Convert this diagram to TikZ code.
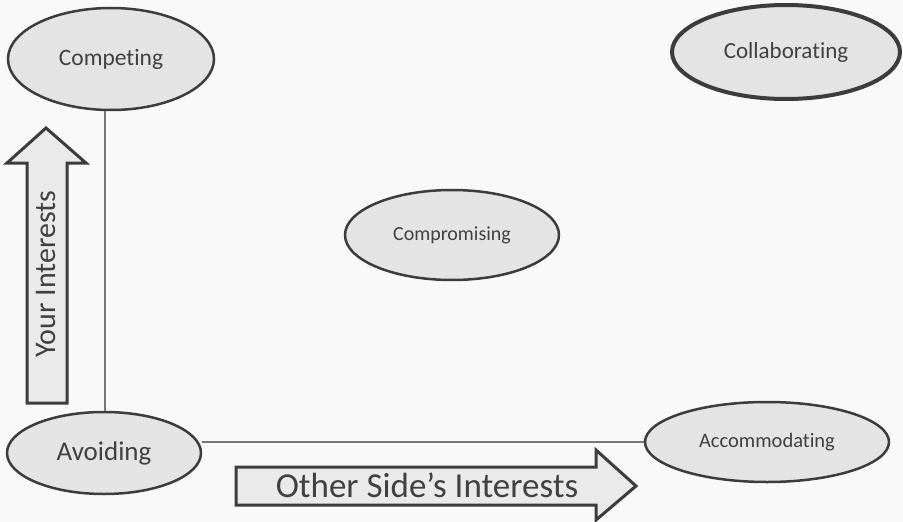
\documentclass[tikz,border=0pt]{standalone}
\usepackage{fontspec}
\setmainfont{Carlito}[Ligatures=NoCommon]
\usetikzlibrary{shapes.geometric}
\definecolor{bg}{HTML}{F9F9F9}
\definecolor{ellfill}{HTML}{E4E4E4}
\definecolor{ellborder}{HTML}{3C3C3C}
\definecolor{txt}{HTML}{404040}
\definecolor{conn}{HTML}{777777}
\definecolor{arrfill}{HTML}{EAEAEA}
\tikzset{
  stylebox/.style={ellipse, draw=ellborder, fill=ellfill, line width=2.5pt, inner sep=0pt, text=txt},
  connline/.style={draw=conn, line width=2pt},
  bigarrow/.style={draw=ellborder, fill=arrfill, line width=3pt, line join=miter},
  arrowtext/.style={text=txt, inner sep=0pt}
}
\begin{document}
\begin{tikzpicture}[x=1pt,y=-1pt]
\fill[bg] (0,0) rectangle (903,522);
\useasboundingbox (0,0) rectangle (903,522);

\node[stylebox, minimum width=206pt, minimum height=102pt, font=\fontsize{23.5}{26}\selectfont] (comp) at (111,59) {Competing};
\node[stylebox, line width=4pt, minimum width=228pt, minimum height=94pt, font=\fontsize{23}{26}\selectfont] (coll) at (786,52) {Collaborating};
\node[stylebox, minimum width=214pt, minimum height=90pt, font=\fontsize{20}{23}\selectfont] (compr) at (452,235) {Compromising};
\node[stylebox, minimum width=194pt, minimum height=82pt, font=\fontsize{27}{30}\selectfont] (avoid) at (104,453) {Avoiding};
\node[stylebox, minimum width=244pt, minimum height=80pt, font=\fontsize{20.5}{23}\selectfont] (acc) at (767,442) {Accommodating};

\draw[connline] (avoid.north -| 105,0) -- (comp.south -| 105,0);
\draw[connline] (acc.west -| avoid.east) -- (acc.west);

% up arrow
\draw[bigarrow] (27,403) -- (27,163) -- (7,163) -- (46,128) -- (86,163) -- (67,163) -- (67,403) -- cycle;
\node[arrowtext, rotate=90, font=\fontsize{30}{33}\selectfont] (you) at (46,274) {Your Interests};

% right arrow
\draw[bigarrow] (236,467) -- (596,467) -- (596,450) -- (636,486) -- (596,520) -- (596,505) -- (236,505) -- cycle;
\node[arrowtext, font=\fontsize{35}{38}\selectfont] (other) at (427,485) {Other Side’s Interests};
\end{tikzpicture}
\end{document}
